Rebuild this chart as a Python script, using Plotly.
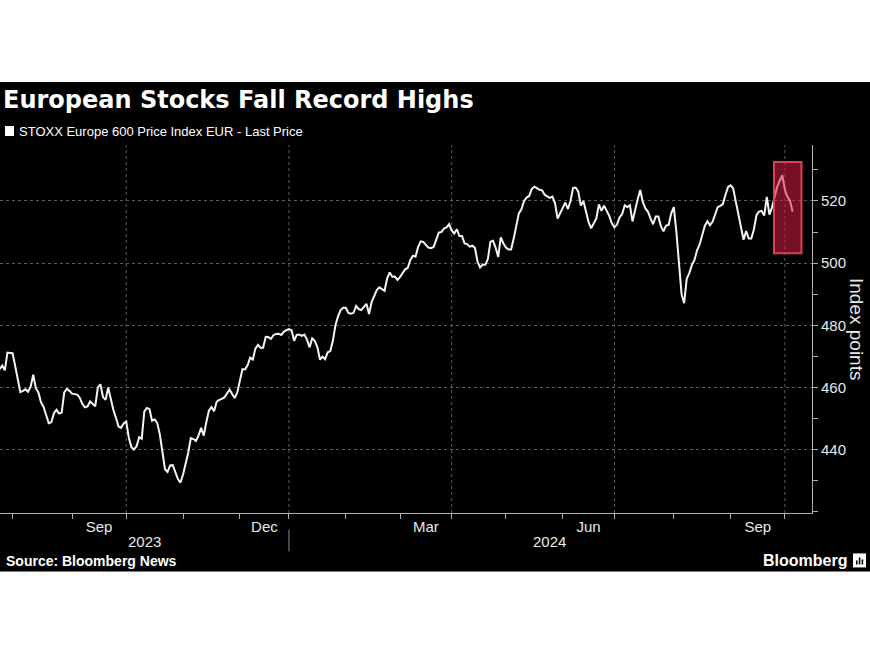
import plotly.graph_objects as go
import pandas as pd

TITLE = "European Stocks Fall Record Highs"
SERIES_NAME = "STOXX Europe 600 Price Index EUR - Last Price"
Y_TITLE = "Index points"
SOURCE = "Source: Bloomberg News"
BRAND = "Bloomberg"

START_DATE = "2023-07-25"
HOLIDAYS = ["2023-12-25", "2023-12-26", "2024-01-01", "2024-03-29", "2024-04-01", "2024-05-01"]

VALUES = [
    465.9, 467.0, 465.5, 471.2, 471.1, 471.0, 466.9, 462.8, 458.5, 458.9,
    459.4, 458.6, 460.3, 464.1, 459.7, 458.4, 455.2, 453.7, 450.8, 448.5,
    448.8, 451.7, 452.8, 451.6, 451.9, 458.4, 459.5, 458.9, 458.0, 457.8,
    457.7, 456.7, 454.7, 453.6, 453.9, 455.5, 454.8, 453.9, 460.0, 461.0,
    456.9, 456.0, 460.0, 455.8, 452.8, 450.3, 447.4, 447.0, 448.4, 449.0,
    443.8, 440.8, 440.0, 441.1, 444.0, 443.5, 452.3, 453.4, 453.0, 449.3,
    449.7, 448.6, 444.9, 439.3, 433.7, 432.8, 434.9, 435.0, 433.0, 430.5,
    429.4, 432.0, 435.5, 439.0, 443.7, 443.4, 442.8, 444.6, 447.0, 444.5,
    448.8, 452.5, 453.7, 452.3, 455.4, 456.0, 456.3, 456.8, 458.0, 459.3,
    457.9, 456.6, 458.4, 462.5, 465.9, 465.8, 467.2, 469.6, 469.0, 472.5,
    473.7, 472.8, 472.8, 476.3, 476.2, 475.6, 476.8, 477.2, 477.3, 476.9,
    477.9, 478.4, 478.8, 478.4, 475.0, 476.9, 477.0, 476.6, 477.0, 475.3,
    472.9, 475.8, 475.0, 473.0, 469.0, 469.9, 469.1, 471.3, 471.7, 475.0,
    480.0, 482.9, 484.9, 485.6, 485.6, 484.0, 483.7, 484.0, 486.2, 485.2,
    484.9, 485.9, 486.9, 483.6, 487.5, 489.4, 491.3, 492.2, 491.6, 491.1,
    495.0, 497.0, 495.6, 495.7, 494.6, 495.5, 496.8, 498.0, 498.5, 501.0,
    502.4, 502.1, 505.2, 507.0, 506.8, 505.8, 505.0, 504.8, 505.2, 507.5,
    509.8, 510.0, 511.1, 511.5, 512.5, 510.5, 509.5, 510.9, 508.7, 508.7,
    506.3, 506.1, 505.3, 505.6, 504.9, 500.5, 498.6, 499.5, 499.5, 501.3,
    506.9, 507.2, 505.0, 502.0, 508.3, 506.4, 505.0, 504.4, 504.4, 507.8,
    512.4, 516.0, 517.3, 519.9, 521.1, 521.6, 523.8, 524.6, 524.1, 523.6,
    523.4, 522.0, 521.5, 521.0, 521.4, 519.3, 514.3, 516.2, 517.6, 519.5,
    517.4, 520.0, 524.2, 524.3, 523.0, 518.5, 520.0, 516.8, 513.2, 511.2,
    513.0, 514.4, 518.9, 516.8, 518.5, 517.0, 515.2, 512.8, 511.5, 512.4,
    514.7, 515.8, 518.6, 518.0, 518.6, 513.4, 517.3, 520.5, 523.5, 519.6,
    517.6, 516.5, 514.4, 512.5, 515.0, 515.0, 511.9, 510.2, 512.1, 512.3,
    516.0, 518.0, 510.0, 501.0, 490.0, 487.1, 495.0, 496.8, 499.4, 501.0,
    504.1, 506.0, 509.3, 512.0, 513.5, 512.2, 513.3, 515.9, 518.0, 518.4,
    519.0, 522.0, 524.5, 525.0, 524.0, 519.8, 515.8, 510.9, 507.5, 510.3,
    507.9, 507.9, 510.8, 515.4, 516.6, 516.8, 515.3, 521.3, 515.6, 517.9,
    521.5, 524.5, 526.5, 528.3, 523.6, 521.3, 520.0, 516.5,
]

X_RANGE = ["2023-07-25 03:00", "2024-10-15 12:00"]
Y_RANGE = [419.6, 538.0]
Y_TICKS = [440, 460, 480, 500, 520]

MONTH_LABELS = ["Sep", "Dec", "Mar", "Jun", "Sep"]
MONTH_LABEL_DATES = ["2023-09-15 12:00", "2023-12-14 12:00", "2024-03-15", "2024-06-17", "2024-09-16 12:00"]
MONTH_STARTS = ["2023-08-01", "2023-09-01", "2023-10-02", "2023-11-01", "2023-12-01", "2024-01-02",
                "2024-02-01", "2024-03-01", "2024-04-02", "2024-05-02", "2024-06-03", "2024-07-01",
                "2024-08-01", "2024-09-02", "2024-10-01"]
QUARTER_STARTS = ["2023-10-02", "2024-01-02", "2024-04-02", "2024-07-01", "2024-10-01"]
YEAR_LABELS = ["2023", "2024"]
YEAR_LABEL_DATES = ["2023-10-11", "2024-05-27"]
YEAR_BOUNDARY = "2024-01-02"

HIGHLIGHT_X = ["2024-09-24 19:00", "2024-10-09 10:00"]
HIGHLIGHT_Y = [503.2, 532.5]

# ---- layout geometry (pixels) ----
W, H = 870, 653
ML, MR, MT, MB = 0, 58, 145, 139.5
PW = W - ML - MR
PH = H - MT - MB


def px(x):
    return (x - ML) / PW


def py(y):
    return (H - MB - y) / PH


dates = pd.bdate_range(START_DATE, periods=len(VALUES), freq="C", holidays=HOLIDAYS)

TEXT = "#e8e8e8"
GRID = "#5c5c5c"
AXIS = "#b0b0b0"

fig = go.Figure()
fig.add_trace(go.Scatter(
    x=dates, y=VALUES, mode="lines", name=SERIES_NAME,
    line=dict(color="#f4f4f4", width=2), showlegend=False,
))

shapes = []
# black chart panel
shapes.append(dict(type="rect", xref="paper", yref="paper", x0=px(0), x1=px(870), y0=py(572), y1=py(82),
                   fillcolor="#000000", line=dict(width=0), layer="below"))
# quarter gridlines
for d in QUARTER_STARTS:
    shapes.append(dict(type="line", xref="x", yref="paper", x0=d, x1=d, y0=0, y1=1,
                       line=dict(color=GRID, width=1, dash="dot"), layer="below"))
# year separator
shapes.append(dict(type="line", xref="x", yref="paper", x0=YEAR_BOUNDARY, x1=YEAR_BOUNDARY,
                   y0=py(530), y1=py(552), line=dict(color="#8a8a8a", width=1)))
# highlight box
shapes.append(dict(type="rect", xref="x", yref="y", x0=HIGHLIGHT_X[0], x1=HIGHLIGHT_X[1],
                   y0=HIGHLIGHT_Y[0], y1=HIGHLIGHT_Y[1],
                   fillcolor="rgba(215,30,65,0.55)", line=dict(color="#e0405c", width=2), layer="above"))
# legend swatch
shapes.append(dict(type="rect", xref="paper", yref="paper", x0=px(5), x1=px(14), y0=py(136), y1=py(126),
                   fillcolor="#ffffff", line=dict(width=0)))
# brand icon (white tile with small bars)
shapes.append(dict(type="rect", xref="paper", yref="paper", x0=px(853), x1=px(866), y0=py(568), y1=py(554),
                   fillcolor="#ffffff", line=dict(width=0)))
for bx, top in [(856, 561), (858.8, 558), (861.6, 560)]:
    shapes.append(dict(type="rect", xref="paper", yref="paper", x0=px(bx), x1=px(bx + 1.6),
                       y0=py(565), y1=py(top), fillcolor="#000000", line=dict(width=0)))
fig.update_layout(shapes=shapes)

annotations = [
    dict(text="<b>" + TITLE + "</b>", xref="paper", yref="paper", x=px(1), y=py(100),
         xanchor="left", yanchor="middle", showarrow=False,
         font=dict(family="DejaVu Sans", size=24, color="#ffffff")),
    dict(text=SERIES_NAME, xref="paper", yref="paper", x=px(17), y=py(131),
         xanchor="left", yanchor="middle", showarrow=False,
         font=dict(family="Liberation Sans", size=13, color="#ffffff")),
    dict(text=Y_TITLE, xref="paper", yref="paper", x=px(857), y=0.5, textangle=90,
         xanchor="center", yanchor="middle", showarrow=False,
         font=dict(family="Liberation Sans", size=19, color=TEXT)),
    dict(text="<b>" + SOURCE + "</b>", xref="paper", yref="paper", x=px(4), y=py(562),
         xanchor="left", yanchor="middle", showarrow=False,
         font=dict(family="Liberation Sans", size=14, color="#ffffff")),
    dict(text="<b>" + BRAND + "</b>", xref="paper", yref="paper", x=px(849), y=py(561),
         xanchor="right", yanchor="middle", showarrow=False,
         font=dict(family="Liberation Sans", size=16, color="#ffffff")),
]
for lab, d in zip(YEAR_LABELS, YEAR_LABEL_DATES):
    annotations.append(dict(text=lab, xref="x", yref="paper", x=d, y=py(542),
                            xanchor="center", yanchor="middle", showarrow=False,
                            font=dict(family="Liberation Sans", size=15, color=TEXT)))
fig.update_layout(annotations=annotations)

fig.update_xaxes(
    type="date", range=X_RANGE,
    rangebreaks=[dict(bounds=["sat", "mon"]), dict(values=HOLIDAYS)],
    tickmode="array", tickvals=MONTH_LABEL_DATES, ticktext=MONTH_LABELS,
    ticks="", showgrid=False, zeroline=False,
    showline=True, linecolor=AXIS, linewidth=1,
    tickfont=dict(family="Liberation Sans", size=15, color=TEXT),
    minor=dict(tickmode="array", tickvals=MONTH_STARTS, ticks="outside", ticklen=5,
               tickcolor=AXIS, tickwidth=1, showgrid=False),
)
fig.update_yaxes(
    side="right", range=Y_RANGE,
    tickmode="array", tickvals=Y_TICKS,
    ticks="outside", ticklen=5, tickcolor=AXIS,
    showgrid=True, gridcolor=GRID, griddash="dot", gridwidth=1,
    zeroline=False, showline=True, linecolor=AXIS, linewidth=1,
    tickfont=dict(family="Liberation Sans", size=15, color=TEXT),
    minor=dict(dtick=10, tick0=420, ticks="outside", ticklen=5, tickcolor=AXIS, showgrid=False),
)

fig.update_layout(
    width=W, height=H, autosize=False,
    margin=dict(l=ML, r=MR, t=MT, b=MB, pad=0),
    paper_bgcolor="#ffffff", plot_bgcolor="#000000",
    showlegend=False,
)

fig.write_html("out.html")
